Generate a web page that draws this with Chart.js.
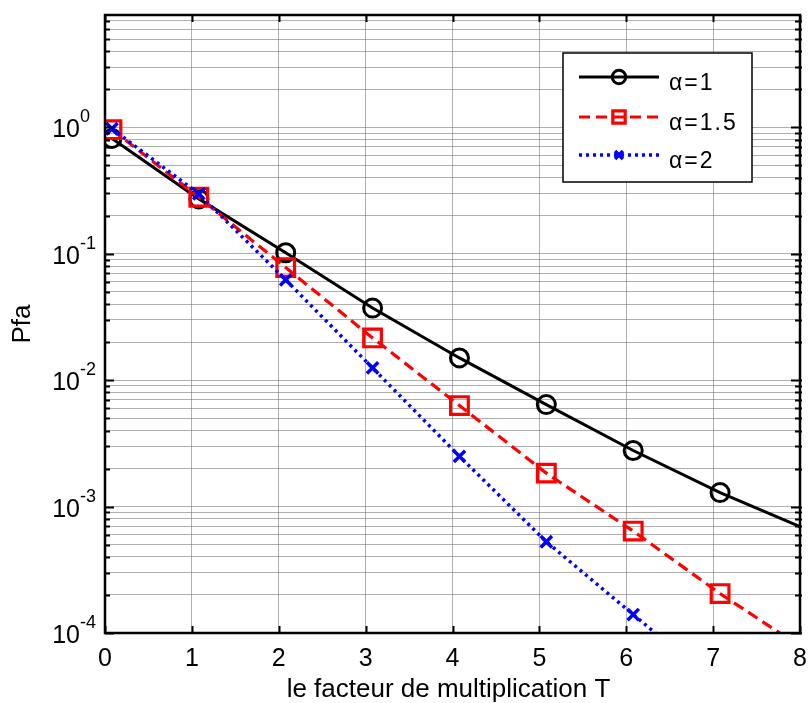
<!DOCTYPE html>
<html><head><meta charset="utf-8">
<script src="https://cdn.jsdelivr.net/npm/chart.js@4.4.0/dist/chart.umd.min.js"></script>
<style>html,body{margin:0;padding:0;background:#fff}#wrap{width:810px;height:703px;position:relative}</style>
</head><body><div id="wrap"><canvas id="c"></canvas></div>
<script>
// ---- data ----
const xValues = [0.08, 1.08, 2.08, 3.08, 4.08, 5.08, 6.08, 7.08, 8.08];
const pfaAlpha1  = [0.818, 0.272, 0.102, 0.0372, 0.0150, 0.00641, 0.00278, 0.00129, 0.000657];
const pfaAlpha15 = [0.96, 0.28, 0.0778, 0.0216, 0.0063, 0.00184, 0.00064, 0.000205, 0.000072];
const pfaAlpha2  = [0.976, 0.298, 0.0622, 0.0125, 0.0025, 0.000527, 0.00014, 0.000037];
const seriesLabels = ['α=1', 'α=1.5', 'α=2'];
const xTicks = [0, 1, 2, 3, 4, 5, 6, 7, 8];
const yMajorTicks = [1e-4, 1e-3, 1e-2, 1e-1, 1];
const yMajorExp = ['-4', '-3', '-2', '-1', '0'];
const xTitle = 'le facteur de multiplication T';
const yTitle = 'Pfa';
const xMin = 0, xMax = 8, yMin = 1e-4, yMax = 7.75;

// all log ticks (1..9 x decade) inside range
const yAllTicks = [];
yMajorTicks.forEach(d => { for (let m = 1; m <= 9; m++) { const v = d * m; if (v >= yMin * 0.999 && v <= yMax) yAllTicks.push(v); } });

const FONT = '"Liberation Sans", Arial, Helvetica, sans-serif';
const toPts = ys => ys.map((y, i) => ({ x: xValues[i], y }));
const inside = ctx => { const p = ctx.raw; return !!p && p.x <= xMax && p.y >= yMin && p.y <= yMax; };

const styles = [
  { color: '#000000', dash: [], lw: 3, ps: 'circle', pr: 9, pbw: 3 },
  { color: '#ff0000', dash: [11, 6], lw: 3.2, ps: 'rect', pr: 12.5, pbw: 3.2 },
  { color: '#0000ff', dash: [3, 4], lw: 3.5, ps: 'crossRot', pr: 8, pbw: 3.5 }
];
const seriesData = [pfaAlpha1, pfaAlpha15, pfaAlpha2];

const datasets = seriesData.map((arr, i) => ({
  label: seriesLabels[i],
  data: toPts(arr),
  borderColor: styles[i].color,
  borderWidth: styles[i].lw,
  borderDash: styles[i].dash,
  pointStyle: styles[i].ps,
  pointRadius: ctx => inside(ctx) ? styles[i].pr : 0,
  pointHoverRadius: 0,
  pointBorderWidth: styles[i].pbw,
  pointBorderColor: styles[i].color,
  pointBackgroundColor: 'rgba(0,0,0,0)',
  fill: false,
  tension: 0,
  order: 3 - i
}));

const decor = {
  id: 'decor',
  afterDraw(chart) {
    const ctx = chart.ctx, a = chart.chartArea, xs = chart.scales.x, ys = chart.scales.y;
    ctx.save();
    // ticks inside
    ctx.strokeStyle = '#000'; ctx.lineWidth = 2; ctx.setLineDash([]);
    yAllTicks.forEach(v => {
      const y = Math.round(ys.getPixelForValue(v)) + 0.5;
      const major = yMajorTicks.some(m => Math.abs(m - v) / v < 1e-6);
      const L = major ? 9 : 5;
      ctx.beginPath();
      ctx.moveTo(a.left, y); ctx.lineTo(a.left + L, y);
      ctx.moveTo(a.right + 2, y); ctx.lineTo(a.right - L, y);
      ctx.stroke();
    });
    xTicks.forEach(v => {
      const x = Math.round(xs.getPixelForValue(v)) + 0.5;
      ctx.beginPath();
      ctx.moveTo(x, a.bottom); ctx.lineTo(x, a.bottom - 7);
      ctx.moveTo(x, a.top); ctx.lineTo(x, a.top + 7);
      ctx.stroke();
    });
    // box
    ctx.lineWidth = 2.5;
    ctx.strokeRect(a.left, a.top, a.right - a.left, a.bottom - a.top);
    // x tick labels
    ctx.fillStyle = '#000';
    ctx.font = '25px ' + FONT;
    ctx.textAlign = 'center'; ctx.textBaseline = 'alphabetic';
    xTicks.forEach(v => ctx.fillText(String(v), xs.getPixelForValue(v), a.bottom + 33));
    // y tick labels with superscript
    yMajorTicks.forEach((v, i) => {
      const y = ys.getPixelForValue(v);
      ctx.font = '25px ' + FONT; ctx.textAlign = 'right';
      ctx.fillText('10', 80, y + 10);
      ctx.font = '18px ' + FONT; ctx.textAlign = 'left';
      ctx.fillText(yMajorExp[i], 80, y - 5);
    });
    // axis titles
    ctx.font = '26px ' + FONT; ctx.textAlign = 'center';
    ctx.fillText(xTitle, (a.left + a.right) / 2 - 4, 697);
    ctx.save();
    ctx.translate(30, (a.top + a.bottom) / 2);
    ctx.rotate(-Math.PI / 2);
    ctx.fillText(yTitle, 0, 0);
    ctx.restore();
    // legend
    const bx = 563, by = 53, bw = 189, bh = 129;
    ctx.fillStyle = '#fff'; ctx.fillRect(bx, by, bw, bh);
    ctx.strokeStyle = '#000'; ctx.lineWidth = 1.5; ctx.strokeRect(bx, by, bw, bh);
    const rows = [77, 117, 155];
    seriesLabels.forEach((lab, i) => {
      const s = styles[i], y = rows[i];
      ctx.strokeStyle = s.color; ctx.lineWidth = s.lw; ctx.setLineDash(s.dash);
      ctx.beginPath(); ctx.moveTo(579, y); ctx.lineTo(659, y); ctx.stroke();
      ctx.setLineDash([]);
      ctx.lineWidth = s.pbw;
      ctx.fillStyle = 'rgba(0,0,0,0)';
      Chart.helpers.drawPoint(ctx, { pointStyle: s.ps, radius: s.pr * (i === 0 ? 0.75 : 0.7), rotation: 0, borderWidth: s.pbw }, 619, y);
      ctx.fillStyle = '#000';
      ctx.font = '23px ' + FONT; ctx.textAlign = 'left';
      ctx.letterSpacing = '2px';
      ctx.fillText(lab, 669, y + 13);
      ctx.letterSpacing = '0px';
    });
    ctx.restore();
  }
};

new Chart(document.getElementById('c'), {
  type: 'line',
  data: { datasets },
  options: {
    responsive: true, maintainAspectRatio: false, animation: false, events: [],
    layout: { autoPadding: false, padding: { left: 0, top: 15, right: 10, bottom: 0 } },
    plugins: { legend: { display: false }, tooltip: { enabled: false } },
    scales: {
      x: {
        type: 'linear', min: xMin, max: xMax,
        afterBuildTicks: s => { s.ticks = xTicks.map(v => ({ value: v })); },
        afterFit: s => { s.height = 70; },
        ticks: { display: false },
        grid: { color: 'rgba(110,110,110,0.55)', lineWidth: 1, drawTicks: false },
        border: { display: false }
      },
      y: {
        type: 'logarithmic', min: yMin, max: yMax,
        afterBuildTicks: s => { s.ticks = yAllTicks.map(v => ({ value: v })); },
        afterFit: s => { s.width = 105; },
        ticks: { display: false },
        grid: { color: 'rgba(110,110,110,0.55)', lineWidth: 1, drawTicks: false },
        border: { display: false }
      }
    }
  },
  plugins: [decor]
});
</script></body></html>
